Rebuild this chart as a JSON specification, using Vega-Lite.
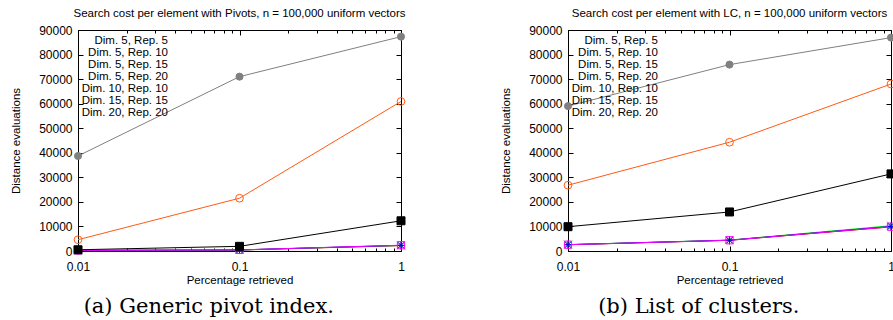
{
  "$schema": "https://vega.github.io/schema/vega-lite/v6.json",
  "background": "white",
  "padding": {"left": 10, "right": 2, "top": 7, "bottom": 0},
  "spacing": 92,
  "resolve": {"scale": {"stroke": "independent", "fill": "independent", "shape": "independent"}, "legend": {"stroke": "independent", "fill": "independent", "shape": "independent"}},
  "config": {
    "view": {"stroke": "black", "strokeWidth": 1},
    "font": "Liberation Sans",
    "axis": {"labelFont": "Liberation Sans", "labelFontSize": 12, "labelColor": "black", "titleFont": "Liberation Sans", "titleFontSize": 11.5, "titleFontWeight": "normal", "titleColor": "black", "domainColor": "black", "tickColor": "black", "grid": false},
    "title": {"font": "Liberation Sans", "fontSize": 11.5, "fontWeight": "normal", "color": "black"},
    "legend": {"labelFont": "Liberation Sans", "labelFontSize": 11.5, "labelColor": "black"}
  },
  "datasets": {
    "pivots": [
      {"series": "Dim. 5, Rep. 5", "x": 0.01, "y": 200}, {"series": "Dim. 5, Rep. 5", "x": 0.1, "y": 400}, {"series": "Dim. 5, Rep. 5", "x": 1, "y": 2200},
      {"series": "Dim. 5, Rep. 10", "x": 0.01, "y": 210}, {"series": "Dim. 5, Rep. 10", "x": 0.1, "y": 420}, {"series": "Dim. 5, Rep. 10", "x": 1, "y": 2250},
      {"series": "Dim. 5, Rep. 15", "x": 0.01, "y": 220}, {"series": "Dim. 5, Rep. 15", "x": 0.1, "y": 430}, {"series": "Dim. 5, Rep. 15", "x": 1, "y": 2300},
      {"series": "Dim. 5, Rep. 20", "x": 0.01, "y": 230}, {"series": "Dim. 5, Rep. 20", "x": 0.1, "y": 440}, {"series": "Dim. 5, Rep. 20", "x": 1, "y": 2350},
      {"series": "Dim. 10, Rep. 10", "x": 0.01, "y": 500}, {"series": "Dim. 10, Rep. 10", "x": 0.1, "y": 1900}, {"series": "Dim. 10, Rep. 10", "x": 1, "y": 12300},
      {"series": "Dim. 15, Rep. 15", "x": 0.01, "y": 4600}, {"series": "Dim. 15, Rep. 15", "x": 0.1, "y": 21500}, {"series": "Dim. 15, Rep. 15", "x": 1, "y": 60900},
      {"series": "Dim. 20, Rep. 20", "x": 0.01, "y": 38700}, {"series": "Dim. 20, Rep. 20", "x": 0.1, "y": 71000}, {"series": "Dim. 20, Rep. 20", "x": 1, "y": 87300}
    ],
    "lc": [
      {"series": "Dim. 5, Rep. 5", "x": 0.01, "y": 2550}, {"series": "Dim. 5, Rep. 5", "x": 0.1, "y": 4350}, {"series": "Dim. 5, Rep. 5", "x": 1, "y": 9800},
      {"series": "Dim. 5, Rep. 10", "x": 0.01, "y": 2600}, {"series": "Dim. 5, Rep. 10", "x": 0.1, "y": 4450}, {"series": "Dim. 5, Rep. 10", "x": 1, "y": 10300},
      {"series": "Dim. 5, Rep. 15", "x": 0.01, "y": 2580}, {"series": "Dim. 5, Rep. 15", "x": 0.1, "y": 4400}, {"series": "Dim. 5, Rep. 15", "x": 1, "y": 10000},
      {"series": "Dim. 5, Rep. 20", "x": 0.01, "y": 2570}, {"series": "Dim. 5, Rep. 20", "x": 0.1, "y": 4380}, {"series": "Dim. 5, Rep. 20", "x": 1, "y": 9900},
      {"series": "Dim. 10, Rep. 10", "x": 0.01, "y": 9900}, {"series": "Dim. 10, Rep. 10", "x": 0.1, "y": 15900}, {"series": "Dim. 10, Rep. 10", "x": 1, "y": 31400},
      {"series": "Dim. 15, Rep. 15", "x": 0.01, "y": 26800}, {"series": "Dim. 15, Rep. 15", "x": 0.1, "y": 44300}, {"series": "Dim. 15, Rep. 15", "x": 1, "y": 68000},
      {"series": "Dim. 20, Rep. 20", "x": 0.01, "y": 59000}, {"series": "Dim. 20, Rep. 20", "x": 0.1, "y": 75900}, {"series": "Dim. 20, Rep. 20", "x": 1, "y": 86900}
    ]
  },
  "hconcat": [
    {
      "title": {"text": "(a) Generic pivot index.", "orient": "bottom", "font": "DejaVu Serif", "fontSize": 21, "frame": "bounds", "anchor": "middle", "offset": 10},
      "vconcat": [
        {
          "data": {"name": "pivots"},
          "width": 323,
          "height": 221,
          "title": {"text": "Search cost per element with Pivots, n = 100,000 uniform vectors", "frame": "group", "anchor": "middle", "offset": 5},
          "layer": [
            {
              "mark": {"type": "point", "size": 0},
              "encoding": {
                "x": {"field": "x", "type": "quantitative", "axis": null, "scale": {"type": "log", "domain": [0.01, 1], "nice": false}},
                "y": {"field": "y", "type": "quantitative", "axis": null, "scale": {"domain": [0, 90000], "nice": false}},
                "stroke": {"field": "series", "type": "nominal", "scale": {"domain": ["Dim. 5, Rep. 5", "Dim. 5, Rep. 10", "Dim. 5, Rep. 15", "Dim. 5, Rep. 20", "Dim. 10, Rep. 10", "Dim. 15, Rep. 15", "Dim. 20, Rep. 20"], "range": ["#ff0000", "#00ee00", "#0000ff", "#ff00ff", "#000000", "#ff5a14", "#808080"]}, "legend": {"title": null, "orient": "none", "legendX": 97, "legendY": 6, "labelAlign": "right", "labelOffset": -39, "symbolSize": 961, "symbolStrokeWidth": 1, "rowPadding": 0, "clipHeight": 10, "labelFontSize": 11.5}},
                "fill": {"field": "series", "type": "nominal", "scale": {"domain": ["Dim. 5, Rep. 5", "Dim. 5, Rep. 10", "Dim. 5, Rep. 15", "Dim. 5, Rep. 20", "Dim. 10, Rep. 10", "Dim. 15, Rep. 15", "Dim. 20, Rep. 20"], "range": ["transparent", "transparent", "transparent", "transparent", "#000000", "transparent", "#808080"]}, "legend": {"title": null, "orient": "none", "legendX": 97, "legendY": 6, "labelAlign": "right", "labelOffset": -39, "symbolSize": 961, "symbolStrokeWidth": 1, "rowPadding": 0, "clipHeight": 10, "labelFontSize": 11.5}},
                "shape": {"field": "series", "type": "nominal", "scale": {"domain": ["Dim. 5, Rep. 5", "Dim. 5, Rep. 10", "Dim. 5, Rep. 15", "Dim. 5, Rep. 20", "Dim. 10, Rep. 10", "Dim. 15, Rep. 15", "Dim. 20, Rep. 20"], "range": ["M-1,0L1,0M0,-0.25L0,0.25", "M-1,0L1,0M-0.25,-0.25L0.25,0.25M-0.25,0.25L0.25,-0.25", "M-1,0L1,0M0,-0.25L0,0.25M-0.2,-0.2L0.2,0.2M-0.2,0.2L0.2,-0.2", "M-1,0L1,0M-0.23,-0.23L0.23,-0.23L0.23,0.23L-0.23,0.23Z", "M-1,0L1,0M-0.25,-0.25L0.25,-0.25L0.25,0.25L-0.25,0.25Z", "M-1,0L1,0M0.25,0A0.25,0.25 0 1,1 -0.25,0A0.25,0.25 0 1,1 0.25,0Z", "M-1,0L1,0M0.22,0A0.22,0.22 0 1,1 -0.22,0A0.22,0.22 0 1,1 0.22,0Z"]}, "legend": {"title": null, "orient": "none", "legendX": 97, "legendY": 6, "labelAlign": "right", "labelOffset": -39, "symbolSize": 961, "symbolStrokeWidth": 1, "rowPadding": 0, "clipHeight": 10, "labelFontSize": 11.5}}
              }
            },
            {
              "mark": {"type": "line", "strokeWidth": 1},
              "encoding": {
                "x": {"field": "x", "type": "quantitative",
                  "axis": {"orient": "bottom", "title": "Percentage retrieved", "values": [0.01, 0.02, 0.03, 0.04, 0.05, 0.06, 0.07, 0.08, 0.09, 0.1, 0.2, 0.3, 0.4, 0.5, 0.6, 0.7, 0.8, 0.9, 1], "format": "~g", "labelExpr": "indexof([0.01, 0.1, 1], datum.value) >= 0 ? datum.label : ''", "tickSize": {"condition": {"test": "indexof([0.01, 0.1, 1], datum.value) >= 0", "value": -5}, "value": -3}, "labelPadding": 15, "titlePadding": 0, "labelFlush": false, "labelOverlap": false}},
                "y": {"field": "y", "type": "quantitative",
                  "axis": {"orient": "left", "title": "Distance evaluations", "values": [0, 10000, 20000, 30000, 40000, 50000, 60000, 70000, 80000, 90000], "format": "d", "tickSize": -5, "labelPadding": 11, "titlePadding": 17}},
                "stroke": {"field": "series", "type": "nominal"}
              }
            },
            {
              "transform": [{"filter": "datum.series == 'Dim. 5, Rep. 5'"}],
              "mark": {"type": "point", "shape": "M-1,0L1,0M0,-1L0,1", "filled": false, "size": 64, "strokeWidth": 1, "opacity": 1},
              "encoding": {
                "x": {"field": "x", "type": "quantitative", "axis": {"orient": "top", "title": null, "labels": false, "values": [0.01, 0.02, 0.03, 0.04, 0.05, 0.06, 0.07, 0.08, 0.09, 0.1, 0.2, 0.3, 0.4, 0.5, 0.6, 0.7, 0.8, 0.9, 1], "tickSize": {"condition": {"test": "indexof([0.01, 0.1, 1], datum.value) >= 0", "value": -5}, "value": -3}}},
                "y": {"field": "y", "type": "quantitative", "axis": {"orient": "right", "title": null, "labels": false, "values": [0, 10000, 20000, 30000, 40000, 50000, 60000, 70000, 80000, 90000], "tickSize": -5}},
                "stroke": {"field": "series", "type": "nominal"}
              }
            },
            {
              "transform": [{"filter": "datum.series == 'Dim. 5, Rep. 10'"}],
              "mark": {"type": "point", "shape": "M-1,-1L1,1M-1,1L1,-1", "filled": false, "size": 64, "strokeWidth": 1, "opacity": 1},
              "encoding": {"x": {"field": "x", "type": "quantitative", "axis": null}, "y": {"field": "y", "type": "quantitative", "axis": null}, "stroke": {"field": "series", "type": "nominal"}}
            },
            {
              "transform": [{"filter": "datum.series == 'Dim. 5, Rep. 15'"}],
              "mark": {"type": "point", "shape": "M-1,0L1,0M0,-1L0,1M-0.8,-0.8L0.8,0.8M-0.8,0.8L0.8,-0.8", "filled": false, "size": 64, "strokeWidth": 1, "opacity": 1},
              "encoding": {"x": {"field": "x", "type": "quantitative", "axis": null}, "y": {"field": "y", "type": "quantitative", "axis": null}, "stroke": {"field": "series", "type": "nominal"}}
            },
            {
              "transform": [{"filter": "datum.series == 'Dim. 5, Rep. 20'"}],
              "mark": {"type": "point", "shape": "M-0.9,-0.9L0.9,-0.9L0.9,0.9L-0.9,0.9Z", "filled": false, "size": 64, "strokeWidth": 1, "opacity": 1},
              "encoding": {"x": {"field": "x", "type": "quantitative", "axis": null}, "y": {"field": "y", "type": "quantitative", "axis": null}, "stroke": {"field": "series", "type": "nominal"}}
            },
            {
              "transform": [{"filter": "datum.series == 'Dim. 10, Rep. 10'"}],
              "mark": {"type": "point", "shape": "M-1,-1L1,-1L1,1L-1,1Z", "filled": true, "fill": "#000000", "size": 64, "strokeWidth": 1, "opacity": 1},
              "encoding": {"x": {"field": "x", "type": "quantitative", "axis": null}, "y": {"field": "y", "type": "quantitative", "axis": null}, "stroke": {"field": "series", "type": "nominal"}}
            },
            {
              "transform": [{"filter": "datum.series == 'Dim. 15, Rep. 15'"}],
              "mark": {"type": "point", "shape": "circle", "filled": false, "size": 60, "strokeWidth": 1, "opacity": 1},
              "encoding": {"x": {"field": "x", "type": "quantitative", "axis": null}, "y": {"field": "y", "type": "quantitative", "axis": null}, "stroke": {"field": "series", "type": "nominal"}}
            },
            {
              "transform": [{"filter": "datum.series == 'Dim. 20, Rep. 20'"}],
              "mark": {"type": "point", "shape": "circle", "filled": true, "fill": "#808080", "size": 50, "strokeWidth": 1, "opacity": 1},
              "encoding": {"x": {"field": "x", "type": "quantitative", "axis": null}, "y": {"field": "y", "type": "quantitative", "axis": null}, "stroke": {"field": "series", "type": "nominal"}}
            }
          ]
        }
      ]
    },
    {
      "title": {"text": "(b) List of clusters.", "orient": "bottom", "font": "DejaVu Serif", "fontSize": 21, "frame": "bounds", "anchor": "middle", "offset": 10},
      "vconcat": [
        {
          "data": {"name": "lc"},
          "width": 323,
          "height": 221,
          "title": {"text": "Search cost per element with LC, n = 100,000 uniform vectors", "frame": "group", "anchor": "middle", "offset": 5},
          "layer": [
            {
              "mark": {"type": "point", "size": 0},
              "encoding": {
                "x": {"field": "x", "type": "quantitative", "axis": null, "scale": {"type": "log", "domain": [0.01, 1], "nice": false}},
                "y": {"field": "y", "type": "quantitative", "axis": null, "scale": {"domain": [0, 90000], "nice": false}},
                "stroke": {"field": "series", "type": "nominal", "scale": {"domain": ["Dim. 5, Rep. 5", "Dim. 5, Rep. 10", "Dim. 5, Rep. 15", "Dim. 5, Rep. 20", "Dim. 10, Rep. 10", "Dim. 15, Rep. 15", "Dim. 20, Rep. 20"], "range": ["#ff0000", "#00ee00", "#0000ff", "#ff00ff", "#000000", "#ff5a14", "#808080"]}, "legend": {"title": null, "orient": "none", "legendX": 97, "legendY": 6, "labelAlign": "right", "labelOffset": -39, "symbolSize": 961, "symbolStrokeWidth": 1, "rowPadding": 0, "clipHeight": 10, "labelFontSize": 11.5}},
                "fill": {"field": "series", "type": "nominal", "scale": {"domain": ["Dim. 5, Rep. 5", "Dim. 5, Rep. 10", "Dim. 5, Rep. 15", "Dim. 5, Rep. 20", "Dim. 10, Rep. 10", "Dim. 15, Rep. 15", "Dim. 20, Rep. 20"], "range": ["transparent", "transparent", "transparent", "transparent", "#000000", "transparent", "#808080"]}, "legend": {"title": null, "orient": "none", "legendX": 97, "legendY": 6, "labelAlign": "right", "labelOffset": -39, "symbolSize": 961, "symbolStrokeWidth": 1, "rowPadding": 0, "clipHeight": 10, "labelFontSize": 11.5}},
                "shape": {"field": "series", "type": "nominal", "scale": {"domain": ["Dim. 5, Rep. 5", "Dim. 5, Rep. 10", "Dim. 5, Rep. 15", "Dim. 5, Rep. 20", "Dim. 10, Rep. 10", "Dim. 15, Rep. 15", "Dim. 20, Rep. 20"], "range": ["M-1,0L1,0M0,-0.25L0,0.25", "M-1,0L1,0M-0.25,-0.25L0.25,0.25M-0.25,0.25L0.25,-0.25", "M-1,0L1,0M0,-0.25L0,0.25M-0.2,-0.2L0.2,0.2M-0.2,0.2L0.2,-0.2", "M-1,0L1,0M-0.23,-0.23L0.23,-0.23L0.23,0.23L-0.23,0.23Z", "M-1,0L1,0M-0.25,-0.25L0.25,-0.25L0.25,0.25L-0.25,0.25Z", "M-1,0L1,0M0.25,0A0.25,0.25 0 1,1 -0.25,0A0.25,0.25 0 1,1 0.25,0Z", "M-1,0L1,0M0.22,0A0.22,0.22 0 1,1 -0.22,0A0.22,0.22 0 1,1 0.22,0Z"]}, "legend": {"title": null, "orient": "none", "legendX": 97, "legendY": 6, "labelAlign": "right", "labelOffset": -39, "symbolSize": 961, "symbolStrokeWidth": 1, "rowPadding": 0, "clipHeight": 10, "labelFontSize": 11.5}}
              }
            },
            {
              "mark": {"type": "line", "strokeWidth": 1},
              "encoding": {
                "x": {"field": "x", "type": "quantitative",
                  "axis": {"orient": "bottom", "title": "Percentage retrieved", "values": [0.01, 0.02, 0.03, 0.04, 0.05, 0.06, 0.07, 0.08, 0.09, 0.1, 0.2, 0.3, 0.4, 0.5, 0.6, 0.7, 0.8, 0.9, 1], "format": "~g", "labelExpr": "indexof([0.01, 0.1, 1], datum.value) >= 0 ? datum.label : ''", "tickSize": {"condition": {"test": "indexof([0.01, 0.1, 1], datum.value) >= 0", "value": -5}, "value": -3}, "labelPadding": 15, "titlePadding": 0, "labelFlush": false, "labelOverlap": false}},
                "y": {"field": "y", "type": "quantitative",
                  "axis": {"orient": "left", "title": "Distance evaluations", "values": [0, 10000, 20000, 30000, 40000, 50000, 60000, 70000, 80000, 90000], "format": "d", "tickSize": -5, "labelPadding": 11, "titlePadding": 17}},
                "stroke": {"field": "series", "type": "nominal"}
              }
            },
            {
              "transform": [{"filter": "datum.series == 'Dim. 5, Rep. 5'"}],
              "mark": {"type": "point", "shape": "M-1,0L1,0M0,-1L0,1", "filled": false, "size": 64, "strokeWidth": 1, "opacity": 1},
              "encoding": {
                "x": {"field": "x", "type": "quantitative", "axis": {"orient": "top", "title": null, "labels": false, "values": [0.01, 0.02, 0.03, 0.04, 0.05, 0.06, 0.07, 0.08, 0.09, 0.1, 0.2, 0.3, 0.4, 0.5, 0.6, 0.7, 0.8, 0.9, 1], "tickSize": {"condition": {"test": "indexof([0.01, 0.1, 1], datum.value) >= 0", "value": -5}, "value": -3}}},
                "y": {"field": "y", "type": "quantitative", "axis": {"orient": "right", "title": null, "labels": false, "values": [0, 10000, 20000, 30000, 40000, 50000, 60000, 70000, 80000, 90000], "tickSize": -5}},
                "stroke": {"field": "series", "type": "nominal"}
              }
            },
            {
              "transform": [{"filter": "datum.series == 'Dim. 5, Rep. 10'"}],
              "mark": {"type": "point", "shape": "M-1,-1L1,1M-1,1L1,-1", "filled": false, "size": 64, "strokeWidth": 1, "opacity": 1},
              "encoding": {"x": {"field": "x", "type": "quantitative", "axis": null}, "y": {"field": "y", "type": "quantitative", "axis": null}, "stroke": {"field": "series", "type": "nominal"}}
            },
            {
              "transform": [{"filter": "datum.series == 'Dim. 5, Rep. 15'"}],
              "mark": {"type": "point", "shape": "M-1,0L1,0M0,-1L0,1M-0.8,-0.8L0.8,0.8M-0.8,0.8L0.8,-0.8", "filled": false, "size": 64, "strokeWidth": 1, "opacity": 1},
              "encoding": {"x": {"field": "x", "type": "quantitative", "axis": null}, "y": {"field": "y", "type": "quantitative", "axis": null}, "stroke": {"field": "series", "type": "nominal"}}
            },
            {
              "transform": [{"filter": "datum.series == 'Dim. 5, Rep. 20'"}],
              "mark": {"type": "point", "shape": "M-0.9,-0.9L0.9,-0.9L0.9,0.9L-0.9,0.9Z", "filled": false, "size": 64, "strokeWidth": 1, "opacity": 1},
              "encoding": {"x": {"field": "x", "type": "quantitative", "axis": null}, "y": {"field": "y", "type": "quantitative", "axis": null}, "stroke": {"field": "series", "type": "nominal"}}
            },
            {
              "transform": [{"filter": "datum.series == 'Dim. 10, Rep. 10'"}],
              "mark": {"type": "point", "shape": "M-1,-1L1,-1L1,1L-1,1Z", "filled": true, "fill": "#000000", "size": 64, "strokeWidth": 1, "opacity": 1},
              "encoding": {"x": {"field": "x", "type": "quantitative", "axis": null}, "y": {"field": "y", "type": "quantitative", "axis": null}, "stroke": {"field": "series", "type": "nominal"}}
            },
            {
              "transform": [{"filter": "datum.series == 'Dim. 15, Rep. 15'"}],
              "mark": {"type": "point", "shape": "circle", "filled": false, "size": 60, "strokeWidth": 1, "opacity": 1},
              "encoding": {"x": {"field": "x", "type": "quantitative", "axis": null}, "y": {"field": "y", "type": "quantitative", "axis": null}, "stroke": {"field": "series", "type": "nominal"}}
            },
            {
              "transform": [{"filter": "datum.series == 'Dim. 20, Rep. 20'"}],
              "mark": {"type": "point", "shape": "circle", "filled": true, "fill": "#808080", "size": 50, "strokeWidth": 1, "opacity": 1},
              "encoding": {"x": {"field": "x", "type": "quantitative", "axis": null}, "y": {"field": "y", "type": "quantitative", "axis": null}, "stroke": {"field": "series", "type": "nominal"}}
            }
          ]
        }
      ]
    }
  ]
}
